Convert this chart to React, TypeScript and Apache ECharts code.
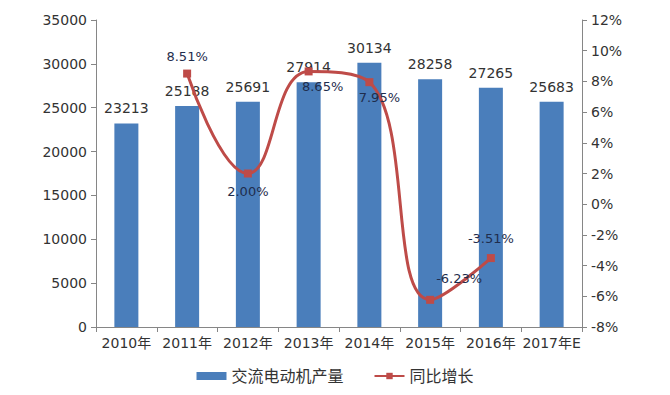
import React, { useEffect, useRef } from "react";
import * as echarts from "echarts";

const categories = ["2010年", "2011年", "2012年", "2013年", "2014年", "2015年", "2016年", "2017年E"];
const production = [23213, 25188, 25691, 27914, 30134, 28258, 27265, 25683];
const growth: (number | null)[] = [null, 8.51, 2.0, 8.65, 7.95, -6.23, -3.51, null];
const growthLabelPos: [string, number, number][] = [
  ["top", 0, 0],
  ["top", 0, -2],
  ["bottom", 0, 2],
  ["bottom", 14, 0],
  ["bottom", 10, 0],
  ["top", 29, -6],
  ["top", 0, -4],
  ["top", 0, 0],
];

const FONT = "'DejaVu Sans', 'Noto Sans CJK SC', sans-serif";

export default function App() {
  const ref = useRef<HTMLDivElement>(null);
  useEffect(() => {
    const chart = echarts.init(ref.current!, null, { renderer: "svg" });
    chart.setOption({
      animation: false,
      textStyle: { fontFamily: FONT },
      grid: { left: 96, right: 88, top: 20, bottom: 68 },
      legend: {
        bottom: 6,
        left: "center",
        itemGap: 30,
        textStyle: { fontSize: 16, color: "#333", fontFamily: FONT },
        data: [
          { name: "交流电动机产量", icon: "rect", itemStyle: { color: "#4a7ebb" } },
          { name: "同比增长" },
        ],
        itemWidth: 30,
        itemHeight: 8,
      },
      xAxis: {
        type: "category",
        data: categories,
        axisLine: { lineStyle: { color: "#868686" } },
        axisTick: { show: true, length: 5, lineStyle: { color: "#868686" } },
        axisLabel: { fontSize: 14, color: "#333", margin: 9, interval: 0 },
      },
      yAxis: [
        {
          type: "value",
          min: 0,
          max: 35000,
          interval: 5000,
          axisLine: { show: true, lineStyle: { color: "#868686" } },
          axisTick: { show: true, length: 5, lineStyle: { color: "#868686" } },
          axisLabel: { fontSize: 14, color: "#333", margin: 9, formatter: (v: number) => String(v) },
          splitLine: { show: false },
        },
        {
          type: "value",
          min: -8,
          max: 12,
          interval: 2,
          position: "right",
          axisLine: { show: true, lineStyle: { color: "#868686" } },
          axisTick: { show: true, length: 5, lineStyle: { color: "#868686" } },
          axisLabel: { fontSize: 14, color: "#333", margin: 9, formatter: "{value}%" },
          splitLine: { show: false },
        },
      ],
      series: [
        {
          name: "交流电动机产量",
          type: "bar",
          data: production,
          barWidth: 24,
          itemStyle: { color: "#4a7ebb" },
          label: { show: true, position: "top", fontSize: 14, color: "#333", distance: 8 },
        },
        {
          name: "同比增长",
          type: "line",
          yAxisIndex: 1,
          smooth: 0.45,
          symbol: "rect",
          symbolSize: 8,
          lineStyle: { color: "#be4b48", width: 3 },
          itemStyle: { color: "#be4b48" },
          data: growth.map((v, i) => ({
            value: v,
            label: {
              show: v !== null,
              position: growthLabelPos[i][0],
              offset: [growthLabelPos[i][1], growthLabelPos[i][2]],
              fontSize: 13,
              color: "#1f2d4d",
              formatter: (p: any) => Number(p.value).toFixed(2) + "%",
            },
          })),
        },
      ],
    });
    return () => chart.dispose();
  }, []);
  return <div ref={ref} style={{ position: "absolute", left: 0, top: 0, width: 670, height: 395 }} />;
}
